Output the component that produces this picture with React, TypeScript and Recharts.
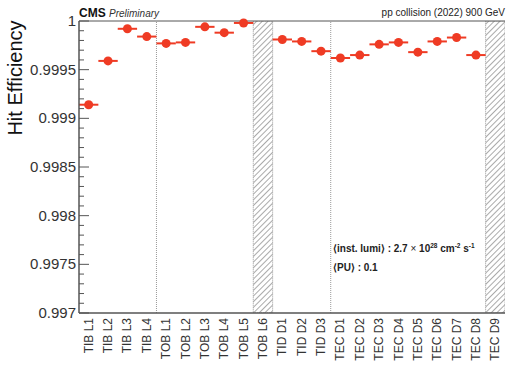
import React from 'react';
import { ComposedChart, Scatter, ErrorBar, XAxis, YAxis, ReferenceArea, ReferenceLine } from 'recharts';

const categories = [
  'TIB L1', 'TIB L2', 'TIB L3', 'TIB L4',
  'TOB L1', 'TOB L2', 'TOB L3', 'TOB L4', 'TOB L5', 'TOB L6',
  'TID D1', 'TID D2', 'TID D3',
  'TEC D1', 'TEC D2', 'TEC D3', 'TEC D4', 'TEC D5', 'TEC D6', 'TEC D7', 'TEC D8', 'TEC D9',
];
// null = no measurement (hatched bins)
const efficiency = [
  0.99914, 0.99959, 0.99992, 0.99984,
  0.99977, 0.99978, 0.99994, 0.99988, 0.99998, null,
  0.99981, 0.99979, 0.99969,
  0.99962, 0.99965, 0.99976, 0.99978, 0.99968, 0.99979, 0.99983, 0.99965, null,
];
const effError = [
  0.00002, 0.00001, 0.00001, 0.00001,
  0.00001, 0.00001, 0.00001, 0.00001, 0.00001, null,
  0.00001, 0.00001, 0.00001,
  0.00001, 0.00001, 0.00001, 0.00001, 0.00001, 0.00001, 0.00001, 0.00004, null,
];
const hatchedBins = [9, 21];
const groupEdges = [4, 13];

const majorTicks = [0.997, 0.9975, 0.998, 0.9985, 0.999, 0.9995, 1];
const majorLabels = ['0.997', '0.9975', '0.998', '0.9985', '0.999', '0.9995', '1'];
const minorTicks = [
  0.9971, 0.9972, 0.9973, 0.9974, 0.9976, 0.9977, 0.9978, 0.9979,
  0.9981, 0.9982, 0.9983, 0.9984, 0.9986, 0.9987, 0.9988, 0.9989,
  0.9991, 0.9992, 0.9993, 0.9994, 0.9996, 0.9997, 0.9998, 0.9999,
];

const points = categories
  .map((c, i) => ({ x: i + 0.5, y: efficiency[i], ex: 0.5, ey: effError[i], name: c }))
  .filter((p) => p.y !== null);

const RED = '#ef3b24';
const AXIS = '#555';
const FONT = '"Liberation Sans", Arial, sans-serif';

const LeftTick = ({ x, y, payload }: any) => {
  const idx = majorTicks.indexOf(payload.value);
  const major = idx >= 0;
  return (
    <g>
      <line x1={x} x2={x + (major ? 10 : 5)} y1={y} y2={y} stroke={AXIS} strokeWidth={1} />
      {major && (
        <text x={x - 3} y={y + 5} textAnchor="end" fontSize={15} fill="#333" fontFamily={FONT}>
          {majorLabels[idx]}
        </text>
      )}
    </g>
  );
};

const RightTick = ({ x, y, payload }: any) => {
  const major = majorTicks.indexOf(payload.value) >= 0;
  return <line x1={x} x2={x - (major ? 10 : 5)} y1={y} y2={y} stroke={AXIS} strokeWidth={1} />;
};

const CatTick = ({ x, y, payload }: any) => (
  <text
    x={x + 4}
    y={y + 5}
    transform={`rotate(-90 ${x + 4} ${y + 5})`}
    textAnchor="end"
    fontSize={12}
    fill="#333"
    fontFamily={FONT}
  >
    {categories[Math.round(payload.value - 0.5)]}
  </text>
);

export default function App() {
  const yTicks = [...majorTicks, ...minorTicks].sort((a, b) => a - b);
  return (
    <div style={{ position: 'absolute', left: 0, top: 0, width: 510, height: 389, background: '#fff', fontFamily: FONT }}>
      <ComposedChart width={510} height={389} data={points} margin={{ top: 21, right: 5, left: 0, bottom: 0 }}>
        <defs>
          <pattern id="hatch" patternUnits="userSpaceOnUse" width={4} height={4} patternTransform="rotate(45)">
            <line x1={0} y1={0} x2={0} y2={4} stroke="#555" strokeWidth={1} />
          </pattern>
        </defs>
        <XAxis
          type="number"
          dataKey="x"
          domain={[0, 22]}
          ticks={categories.map((_, i) => i + 0.5)}
          interval={0}
          height={76}
          tick={<CatTick />}
          tickLine={false}
          tickSize={0}
          tickMargin={0}
          axisLine={{ stroke: AXIS, strokeWidth: 1.5 }}
        />
        <YAxis
          type="number"
          domain={[0.997, 1]}
          ticks={yTicks}
          interval={0}
          width={79}
          tick={<LeftTick />}
          tickLine={false}
          tickSize={0}
          tickMargin={0}
          axisLine={{ stroke: AXIS, strokeWidth: 1.5 }}
        />
        <YAxis
          yAxisId="r"
          orientation="right"
          type="number"
          domain={[0.997, 1]}
          ticks={yTicks}
          interval={0}
          width={0}
          tick={<RightTick />}
          tickLine={false}
          tickSize={0}
          tickMargin={0}
          axisLine={{ stroke: AXIS, strokeWidth: 1 }}
        />
        {hatchedBins.map((b) => (
          <ReferenceArea
            key={b}
            x1={b}
            x2={b + 1}
            y1={0.997}
            y2={1}
            fill="url(#hatch)"
            fillOpacity={1}
            stroke="#999"
            strokeDasharray="1 1"
            ifOverflow="hidden"
          />
        ))}
        {groupEdges.map((e) => (
          <ReferenceLine key={e} x={e} stroke="#999" strokeDasharray="1 1" />
        ))}
        <ReferenceLine y={1} stroke={AXIS} strokeWidth={1} />
        <Scatter
          dataKey="y"
          isAnimationActive={false}
          shape={(p: any) => <circle cx={p.cx} cy={p.cy} r={4.5} fill={RED} />}
        >
          <ErrorBar dataKey="ex" direction="x" width={0} stroke={RED} strokeWidth={2} isAnimationActive={false} />
          <ErrorBar dataKey="ey" direction="y" width={0} stroke={RED} strokeWidth={2} isAnimationActive={false} />
        </Scatter>
      </ComposedChart>

      <div
        style={{
          position: 'absolute', left: 15, top: 78, transform: 'translate(-50%, -50%) rotate(-90deg)',
          fontSize: 20, color: '#111', whiteSpace: 'nowrap',
        }}
      >
        Hit Efficiency
      </div>
      <div style={{ position: 'absolute', left: 79, top: 6, fontSize: 12, whiteSpace: 'nowrap', color: '#111' }}>
        <b>CMS</b>{' '}
        <i style={{ fontSize: 10, color: '#333' }}>Preliminary</i>
      </div>
      <div style={{ position: 'absolute', right: 5, top: 7, fontSize: 10, whiteSpace: 'nowrap', color: '#222' }}>
        pp collision (2022) 900 GeV
      </div>
      <div style={{ position: 'absolute', left: 333, top: 236, fontSize: 10, fontWeight: 'bold', whiteSpace: 'nowrap', color: '#222', lineHeight: '19px' }}>
        <div>
          ⟨inst. lumi⟩ : 2.7 <span style={{ fontWeight: 'normal' }}>×</span> 10<sup style={{ fontSize: 6.5 }}>28</sup> cm
          <sup style={{ fontSize: 6.5 }}>-2</sup> s<sup style={{ fontSize: 6.5 }}>-1</sup>
        </div>
        <div>⟨PU⟩ : 0.1</div>
      </div>
    </div>
  );
}
